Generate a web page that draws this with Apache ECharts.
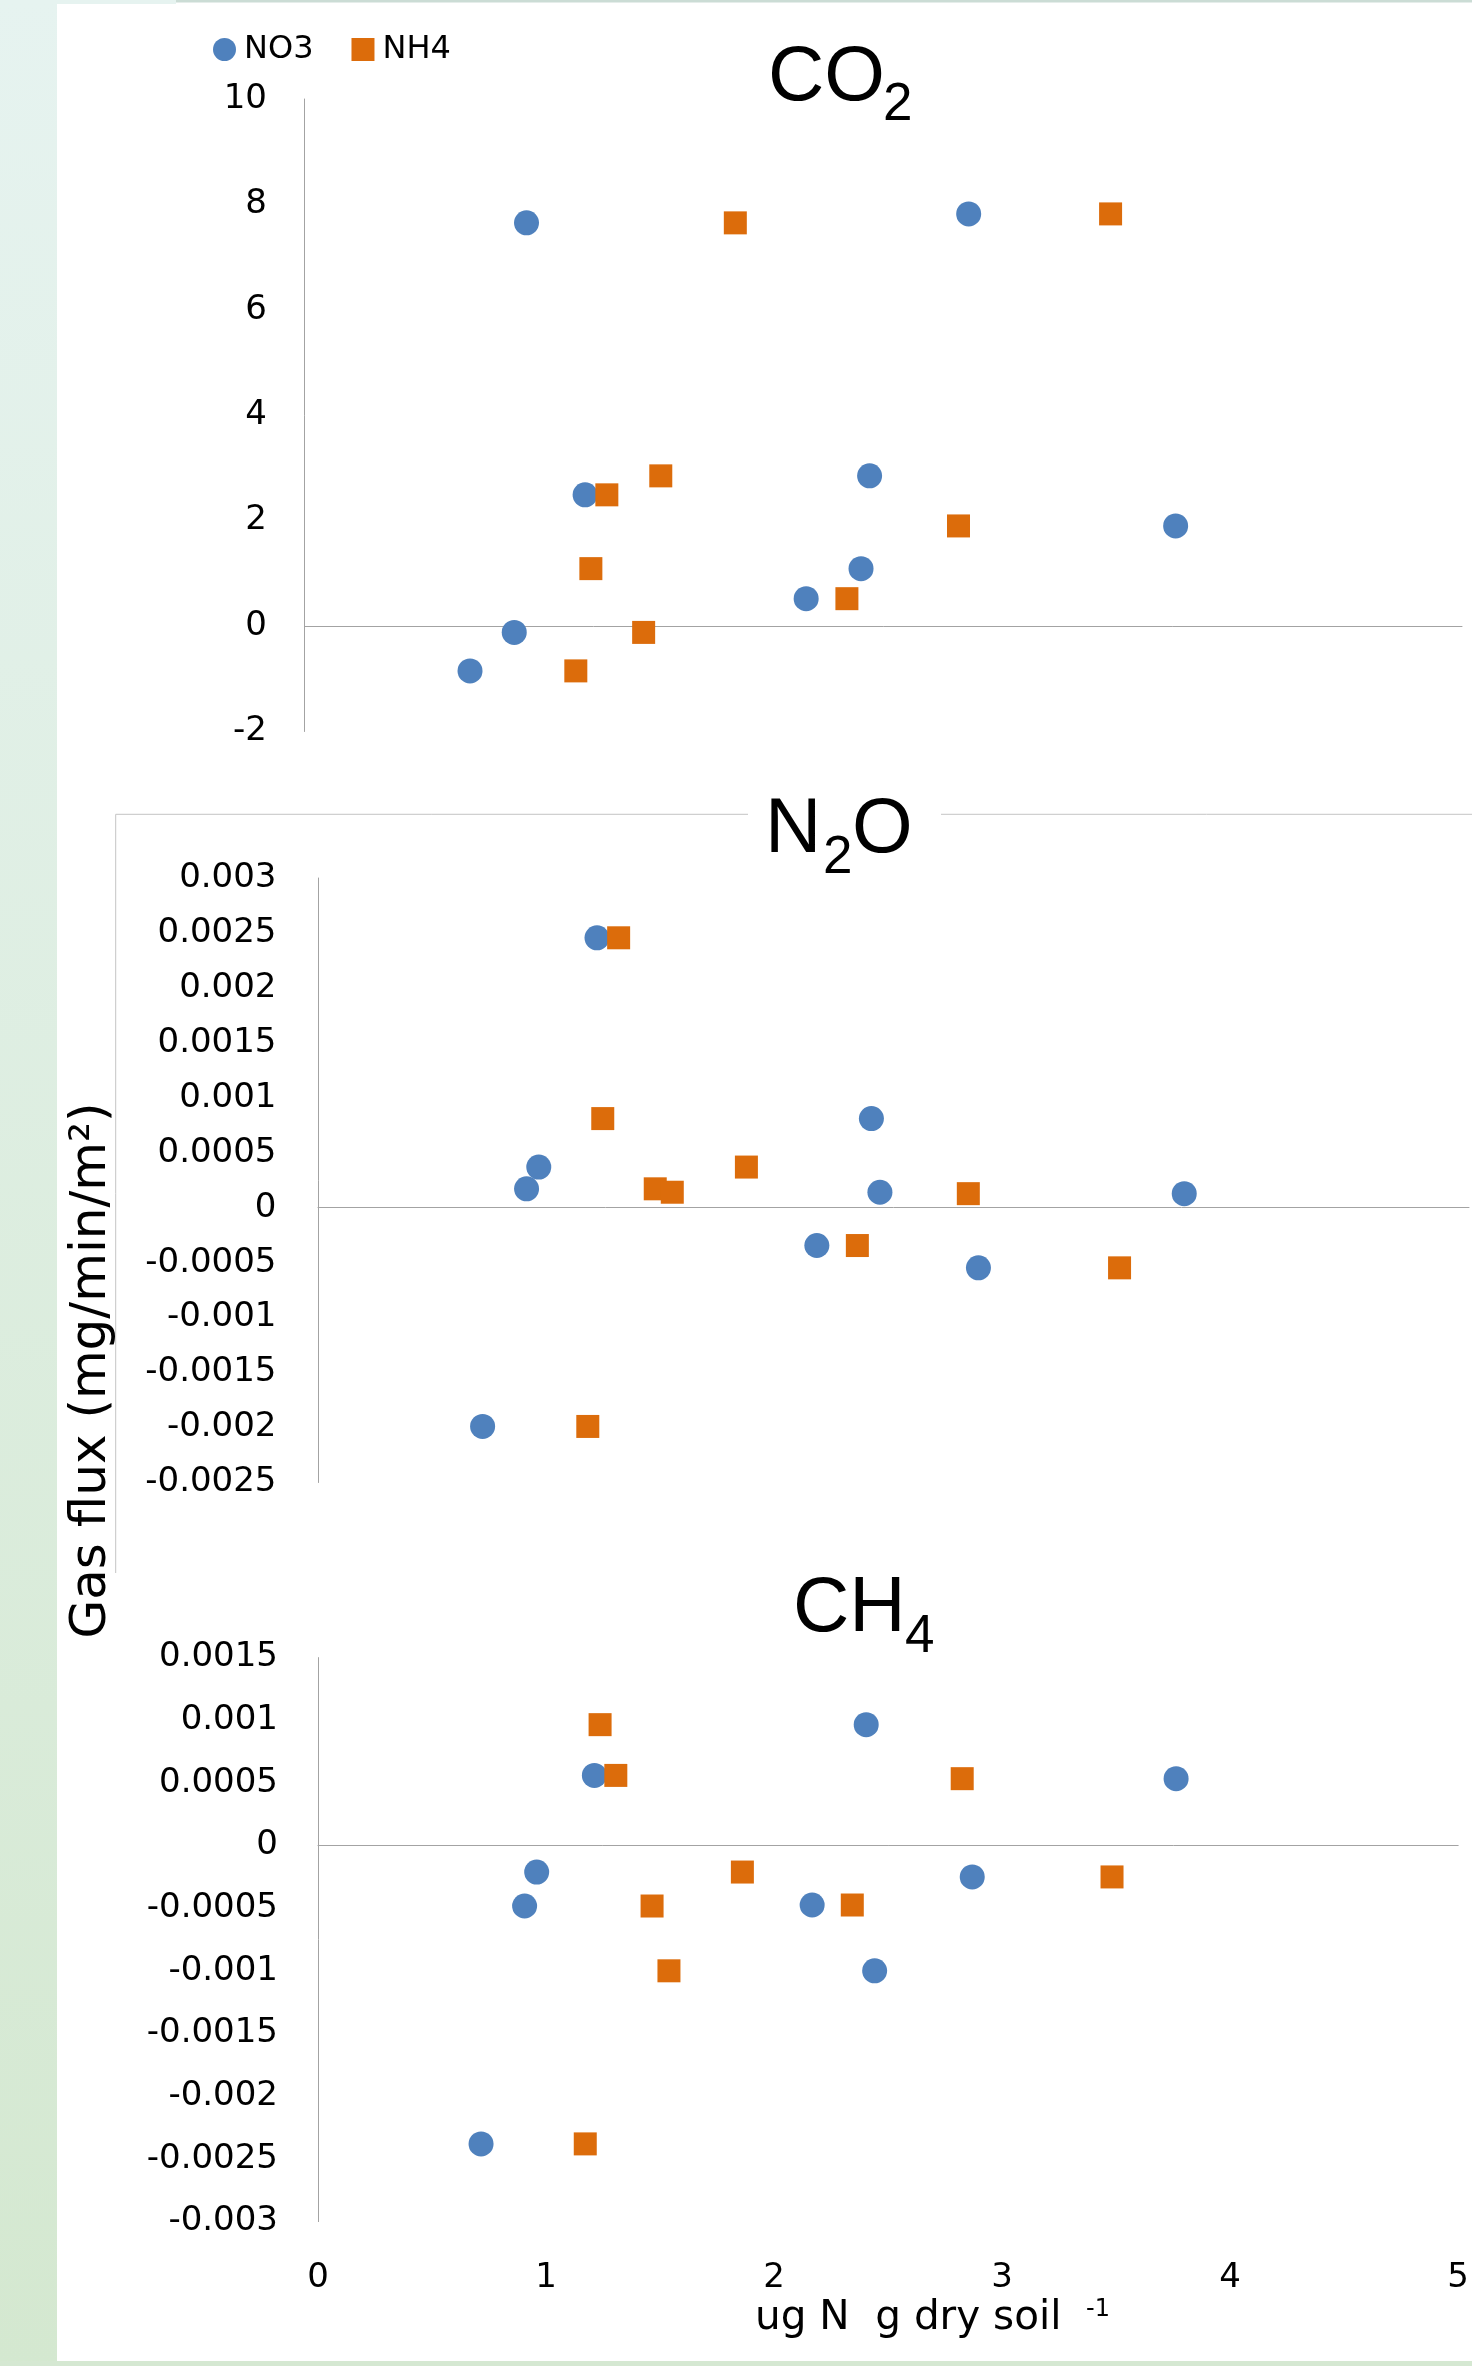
<!DOCTYPE html>
<html>
<head>
<meta charset="utf-8">
<script src="https://cdn.jsdelivr.net/npm/echarts@6/dist/echarts.min.js"></script>
<style>
html,body{margin:0;padding:0;background:#ffffff;}
#chart{width:1472px;height:2366px;}
</style>
</head>
<body>
<div id="chart"></div>
<script>
// ---- data ----
const seriesNames = ['NO3', 'NH4'];
// soil nitrogen content, ug N g dry soil-1, per sample
const nitrate  = [0.715, 0.906, 0.959, 1.212, 2.167, 2.404, 2.441, 2.869, 3.763];
const ammonium = [1.172, 1.465, 1.861, 1.306, 2.343, 1.237, 1.539, 3.482, 2.825];
// gas flux per sample (mg/min/m2)
const co2Flux = [-0.85, -0.12, 7.65, 2.49, 0.52, 1.09, 2.85, 7.82, 1.90];
const n2oFlux = [-0.00199, 0.000172, 0.00037, 0.002456, -0.000344, 0.000811, 0.000141, -0.000547, 0.000128];
const ch4Flux = [-0.00238, -0.000482, -0.000211, 0.00056, -0.000474, 0.000965, -0.000999, -0.00025, 0.000534];
// axis ranges [min, max, interval]
const xRange   = [0, 5, 1];
const co2Range = [-2, 10, 2];
const n2oRange = [-0.0025, 0.003, 0.0005];
const ch4Range = [-0.003, 0.0015, 0.0005];
const yTitle = 'Gas flux (mg/min/m\u00b2)';
const xTitle = 'ug N  g dry soil';
const xTitleSup = '-1';

// ---- styling ----
const BLUE = '#4f81bd';
const ORANGE = '#dc6c0b';
const AXIS = '#a3a3a3';
const LABEL_FONT = 'DejaVu Sans';
const TITLE_FONT = 'Liberation Sans';

const grids = [
  {left: 304.5, top: 99, width: 1157.5, height: 632.5},
  {left: 318, top: 878, width: 1151, height: 604.5},
  {left: 318, top: 1657.6, width: 1151, height: 564}
];

function zeroXAxis(gi) {
  return {
    type: 'value', gridIndex: gi, min: xRange[0], max: xRange[1], interval: xRange[2],
    axisLine: {show: true, onZero: true, lineStyle: {color: AXIS, width: 1}},
    axisTick: {show: false}, axisLabel: {show: false}, splitLine: {show: false}
  };
}
function yAxisFor(gi, r, margin) {
  return {
    type: 'value', gridIndex: gi, min: r[0], max: r[1], interval: r[2],
    axisLine: {show: true, onZero: false, lineStyle: {color: AXIS, width: 1}},
    axisTick: {show: false}, splitLine: {show: false},
    axisLabel: {margin: margin, color: '#000', fontFamily: LABEL_FONT, fontSize: 34}
  };
}

const xAxes = [zeroXAxis(0), zeroXAxis(1), zeroXAxis(2), {
  type: 'value', gridIndex: 2, position: 'bottom', min: xRange[0], max: xRange[1], interval: xRange[2],
  axisLine: {show: false, onZero: false}, axisTick: {show: false}, splitLine: {show: false},
  axisLabel: {margin: 39.5, color: '#000', fontFamily: LABEL_FONT, fontSize: 34}
}];
const yAxes = [yAxisFor(0, co2Range, 37.5), yAxisFor(1, n2oRange, 41.5), yAxisFor(2, ch4Range, 40)];

const fluxes = [co2Flux, n2oFlux, ch4Flux];
const series = [];
fluxes.forEach(function (flux, gi) {
  series.push({
    type: 'scatter', name: seriesNames[0], xAxisIndex: gi === 2 ? 3 : gi, yAxisIndex: gi,
    symbol: 'circle', symbolSize: 25, itemStyle: {color: BLUE, opacity: 1},
    data: nitrate.map(function (x, k) { return [x, flux[k]]; })
  });
  series.push({
    type: 'scatter', name: seriesNames[1], xAxisIndex: gi === 2 ? 3 : gi, yAxisIndex: gi,
    symbol: 'rect', symbolSize: 23, itemStyle: {color: ORANGE, opacity: 1},
    data: ammonium.map(function (x, k) { return [x, flux[k]]; })
  });
});

function t(text, left, top, size, family) {
  return {
    text: text, left: left, top: top, padding: 0, itemGap: 0,
    textStyle: {fontFamily: family || TITLE_FONT, fontSize: size, fontWeight: 'normal', color: '#000', lineHeight: size}
  };
}

const titles = [
  t('CO', 768, 39.7, 78), t('2', 883, 78.7, 53),
  t('N', 765, 791, 78), t('2', 823, 831.4, 53), t('O', 852, 791, 78),
  t('CH', 793, 1570, 78), t('4', 905, 1611, 53),
  t(xTitle, 755, 2297.9, 40.5, LABEL_FONT), t(xTitleSup, 1086, 2298, 24, LABEL_FONT)
];

const option = {
  backgroundColor: '#ffffff',
  animation: false,
  title: titles,
  legend: {
    left: 213, top: 33.5, padding: 0, itemGap: 38, itemWidth: 23, itemHeight: 23,
    textStyle: {fontFamily: LABEL_FONT, fontSize: 32, color: '#000', padding: [0, 0, 0, 3]},
    data: [{name: seriesNames[0], icon: 'circle'}, {name: seriesNames[1], icon: 'rect'}]
  },
  grid: grids,
  xAxis: xAxes,
  yAxis: yAxes,
  series: series,
  graphic: [
    {type: 'rect', z: -10, shape: {x: 0, y: 0, width: 57, height: 2366},
     style: {fill: new echarts.graphic.LinearGradient(0, 0, 0, 1, [{offset: 0, color: '#e6f3f0'}, {offset: 1, color: '#d4e8d0'}])}},
    {type: 'rect', z: -10, shape: {x: 0, y: 0, width: 176, height: 4}, style: {fill: '#e6f3f0'}},
    {type: 'rect', z: -10, shape: {x: 176, y: 0, width: 1296, height: 2.5}, style: {fill: '#cbdcd5'}},
    {type: 'rect', z: -10, shape: {x: 0, y: 2361, width: 1472, height: 5}, style: {fill: '#d5e8d2'}},
    {type: 'line', z: -5, shape: {x1: 115.7, y1: 814.3, x2: 748, y2: 814.3}, style: {stroke: '#c4c4c4', lineWidth: 1}},
    {type: 'line', z: -5, shape: {x1: 941, y1: 814.3, x2: 1472, y2: 814.3}, style: {stroke: '#c4c4c4', lineWidth: 1}},
    {type: 'line', z: -5, shape: {x1: 115.7, y1: 814.3, x2: 115.7, y2: 1573}, style: {stroke: '#c4c4c4', lineWidth: 1}},
    {type: 'text', x: 92.5, y: 1370.5, rotation: Math.PI / 2,
     style: {text: yTitle, fontFamily: LABEL_FONT, fontSize: 50, fill: '#000', align: 'center', verticalAlign: 'middle'}}
  ]
};

const chart = echarts.init(document.getElementById('chart'), null, {renderer: 'canvas'});
chart.setOption(option);
</script>
</body>
</html>
